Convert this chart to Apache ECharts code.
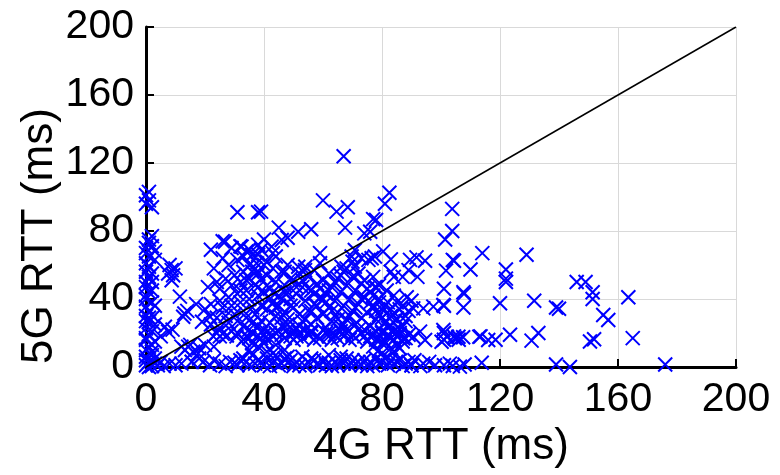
<!DOCTYPE html>
<html>
<head>
<meta charset="utf-8">
<script src="https://cdn.jsdelivr.net/npm/echarts@6/dist/echarts.min.js"></script>
<style>html,body{margin:0;padding:0;background:#fff}#c{width:780px;height:475px}</style>
</head>
<body>
<div id="c"></div>
<script>
const xTicks = [0, 40, 80, 120, 160, 200];
const yTicks = [0, 40, 80, 120, 160, 200];
const xName = '4G RTT (ms)';
const yName = '5G RTT (ms)';
const diagonal = [[0, 0], [200, 200]];

// left column, x near 0
const colZero = [[0,101],[1,98],[2,94],[1,103],[0,96],[1,75],[2,71],[0,67],[3,63],[1,59],[0,56],[2,55],[1,73],[3,68],
[2,50],[0,47],[1,44],[0,40],[2,38],[0,35.5],[1,32.5],[2.5,29.6],[1,26.6],[0,22.7],[3,25],[0,30],
[0,17],[2,13],[0,16],[1,19],[3,15],[0,10],[2,7],[0,1],[1,3],[2,0.5],[3,2],[0,4],[1,0],[4,1],[5,3],
[0,50],[1,53],[2,45],[0,42],[3,36],[1,29],[0,27],[2,21],[1,12],[0,6],[3,5],[2,9],[1,65],[0,61],[2,77],[0,70]];

const nearZero = [[8,60],[8.7,57],[9.2,54],[7.5,55],[10,58],[8.7,51],[11.5,41.4],[13,31.5],[12.6,29.6],[14,33],[6.4,23.7],
[7.5,20.8],[9,22],[5,18],[14.3,12],[16,9],[17.7,8],[13.2,10],[15.5,3],[12,2],[10,1],[8,2],[6,0.5],
[12,12],[15,13],[18,11],[20,13],[23,12]];

const blobLeft = [[17,37],[20,34],[21.7,29.6],[19,26.6],[22,69],[26,74],[26,64],[23,58],[32,71],[34,68],[31,63],[28,60],[36,66],
[38,72],[35,60],[33,56],[30,54],[27,52],[24,50],[21,47],[25,46],[29,48],[32,50],[35,52],[38,55],[37,48],[34,45],[31,43],
[28,41],[25,39],[22,37],[26,35],[29,36],[32,38],[35,40],[38,42],[36,35],[33,33],[30,31],[27,30],[24,29],[28,26],[31,27],
[34,29],[37,31],[39,36],[22,25],[25,23],[33,24],[36,26],[39,27],[32.4,70.8],[35,69],[33,65],[37.5,61],[26.8,73.7],[29,70],
[31,91],[38,91]];

const band18 = [[22.8,18],[25,18],[27.4,18.5],[30.7,18],[34,18],[37.5,18],[40,19],[43,18],[46,19],[49,18],[52,20],[55,19],
[58,18],[61,20],[64,19],[67,18],[70,19],[73,20],[76,18],[79,17],[82,19],[85,18],[88,17],[24,20],[29,21],[33,16],[36,20],
[41,16],[45,21],[50,16],[54,22],[57,16],[60,22],[63,16],[66,21],[69,16],[72,22],[75,15],[78,21],[81,15],[84,21],[87,15],
[26,19.5],[31,20],[35,17],[39,17],[42,20],[47,17],[51,18],[53,17],[56,20],[59,17],[62,18],[65,17],[68,20],[71,17],[74,18],
[77,19],[80,20],[83,17],[86,19],[89,19]];

const bandBottom = [[15.5,3],[19.4,3],[21.7,1],[25,2],[28.5,3],[31,1],[34,3],[37,2],[40,1],[43,3],[46,2],[49,4],[52,1],
[55,3],[58,2],[61,1],[64,3],[67,2],[70,4],[73,1],[76,3],[79,2],[82,1],[85,3],[88,2],[90,1],[18,5],[23,4],[27,0.5],[33,5],
[38,4],[42,0.5],[47,5],[50,0.5],[56,5],[60,4],[63,0.5],[68,5],[72,3],[78,5],[83,4],[87,0.5],[36,7],[44,7],[53,6],[62,7],
[66,6],[80,8],[84,9],[86,11],[35,10],[38,12],[41,9],[44,13],[47,10],[40,14],[48,6],[36,14],[43,8],
[30,2.5],[32,4],[35,1],[39,3],[41,5],[45,1],[48,2.5],[51,3],[54,0.5],[57,4],[59,1],[62,2.5],[65,1],[66,4],[69,1],[71,2],
[74,4],[75,0.5],[77,1],[80,3],[81,5],[84,2],[86,4],[89,3],[91,4],[93,0.5],[96,3]];

const blobMain = [[40,22],[42,26],[44,30],[41,34],[43,38],[45,42],[42,46],[44,50],[41,54],[43,58],[46,24],[48,28],[47,32],
[49,36],[46,40],[48,44],[47,48],[49,52],[46,56],[48,60],[51,23],[53,27],[52,31],[50,35],[54,39],[51,43],[53,47],[50,51],
[52,55],[54,59],[56,25],[58,29],[55,33],[57,37],[59,41],[56,45],[58,49],[55,53],[57,57],[59,61],[61,23],[63,27],[60,31],
[62,35],[64,39],[61,43],[63,47],[60,51],[62,55],[66,24],[68,28],[65,32],[67,36],[69,40],[66,44],[68,48],[65,52],[67,56],
[71,25],[73,29],[70,33],[72,37],[74,41],[71,45],[73,49],[70,53],[76,24],[78,28],[75,32],[77,36],[79,40],[76,44],[78,47],
[81,26],[83,30],[80,34],[82,38],[84,42],[85,28],[87,24],[86,34],[88,30]];

const blobExtra = [[32,45],[34,51],[36,56],[38,47],[40,44],[42,40],[44,35],[46,29],[48,25],[50,21],[52,24],[54,28],[56,33],
[58,36],[60,40],[62,45],[64,50],[66,54],[68,58],[70,62],[72,55],[74,51],[76,38],[78,33],[80,29],[82,23],[84,26],[86,22],
[88,27],[39,52],[41,48],[43,44],[45,36],[47,44],[49,40],[51,47],[53,51],[55,46],[57,43],[59,46],[61,38],[63,33],[65,28],
[67,25],[69,30],[71,35],[73,40],[75,46],[77,42],[79,38],[81,36],[83,34],[85,38],[87,36],[89,33],[35,22],[38,24],[44,20],
[48,22],[56,21],[62,20],[68,22],[74,22],[80,21],[86,20]];

const blobTop = [[40,75],[42.6,70.8],[46,74.7],[45,82],[48,76],[51.6,79.6],[56,81],[59,67],[70.8,68.8],[47,56],[51.6,59],
[53.9,57],[69.7,65],[73,64],[75.4,63],[66.3,59],[70.8,59],[67.5,82],[74,78.6],[60,98],[64.6,91.4],[68.4,94],[39,91.4],
[67,124],[38,66],[41,62],[44,65],[39,69],[43,67],[37,58],[40,60]];

const midRight = [[82.5,102.5],[81,96],[78,86.5],[76,79.6],[77,87],[76.5,64],[77.6,65],[80.4,68],[83,63.3],[89.5,63],
[91.7,64.5],[94.6,62.5],[89,57],[83,56],[77,53],[84,53],[87,53],[92,53],[77.6,47],[79,48],[81.6,45],[88.4,41],[90,39],
[90.6,34.5],[94,34.5],[97.4,35.5],[100.8,36.5],[77,34.5],[79,30.6],[81.6,26.6],[85,28.6],[92.9,20.8],[94.6,15.9],[90.6,17.8],
[87.2,16.9],[100.8,21.8],[102,17.8],[104.7,16.9],[105.9,17.8],[100.2,14.9],[113,17.8],[116,15.9],[77,12],[80,14],[83,11],
[79,10],[85,13],[78,16],[82,18],[84,16]];

const farRight = [[103.8,93],[103.8,80],[101.4,75],[114,67],[129,66],[104.4,62.5],[101.7,56.7],[110,57.4],[122,57.4],[122,52],
[122,50],[101,46],[107.8,43],[146,50],[149,50],[151.4,44],[151.4,40],[163.5,41],[101,36],[107.6,35],[120,37.5],[131.6,39],
[139,35],[140,34.3],[155,30.6],[156.7,27.6],[101,20],[101,16],[104.4,18],[106,16],[107.5,17.5],[113.4,18],[118.5,16],
[123.4,19],[130.7,15.5],[133,20],[150.5,15],[151.9,16.3],[165,17],[101,1],[103,2],[104,0.6],[106.4,0.2],[113.8,2.5],
[139,1.5],[143.7,0],[176,1.5],[107.6,44],[104,63],[90,1],[94,2],[98,1],[108,1.5]];

const samples = [].concat(colZero, nearZero, blobLeft, band18, bandBottom, blobMain, blobExtra, blobTop, midRight, farRight);

const FONT = "'Liberation Sans', Arial, Helvetica, sans-serif";
const chart = echarts.init(document.getElementById('c'), null, {renderer: 'canvas'});

function axisCommon(ticks, name, gap) {
  return {
    type: 'value', min: ticks[0], max: ticks[ticks.length - 1], interval: ticks[1] - ticks[0],
    name: name, nameLocation: 'middle', nameGap: gap,
    nameTextStyle: {fontFamily: FONT, fontSize: 44, color: '#000'},
    axisLine: {show: true, onZero: false, lineStyle: {color: '#000', width: 3}},
    axisTick: {show: true, inside: true, length: 8, lineStyle: {color: '#000', width: 2}},
    axisLabel: {fontFamily: FONT, fontSize: 41, color: '#000', margin: 12},
    splitLine: {show: true, lineStyle: {color: '#d9d9d9', width: 1}}
  };
}

const yAxisOpt = axisCommon(yTicks, '', 90);
delete yAxisOpt.name;

chart.setOption({
  animation: false,
  backgroundColor: '#fff',
  grid: {left: 146, right: 44, top: 27, bottom: 108, containLabel: false},
  xAxis: axisCommon(xTicks, xName, 50),
  yAxis: yAxisOpt,
  graphic: [{
    type: 'text', x: 40, y: 236, rotation: Math.PI / 2,
    style: {text: yName, fontFamily: FONT, fontSize: 44, fill: '#000', align: 'center', verticalAlign: 'middle'}
  }],
  series: [
    {
      type: 'line', data: diagonal, symbol: 'none', silent: true,
      lineStyle: {color: '#000', width: 1.5}, z: 3
    },
    {
      type: 'scatter', data: samples, silent: true,
      symbol: 'path://M0,0L10,10M10,0L0,10', symbolSize: 14,
      itemStyle: {color: 'none', borderColor: '#0000ff', borderWidth: 2, opacity: 1},
      z: 2
    }
  ]
});
</script>
</body>
</html>
